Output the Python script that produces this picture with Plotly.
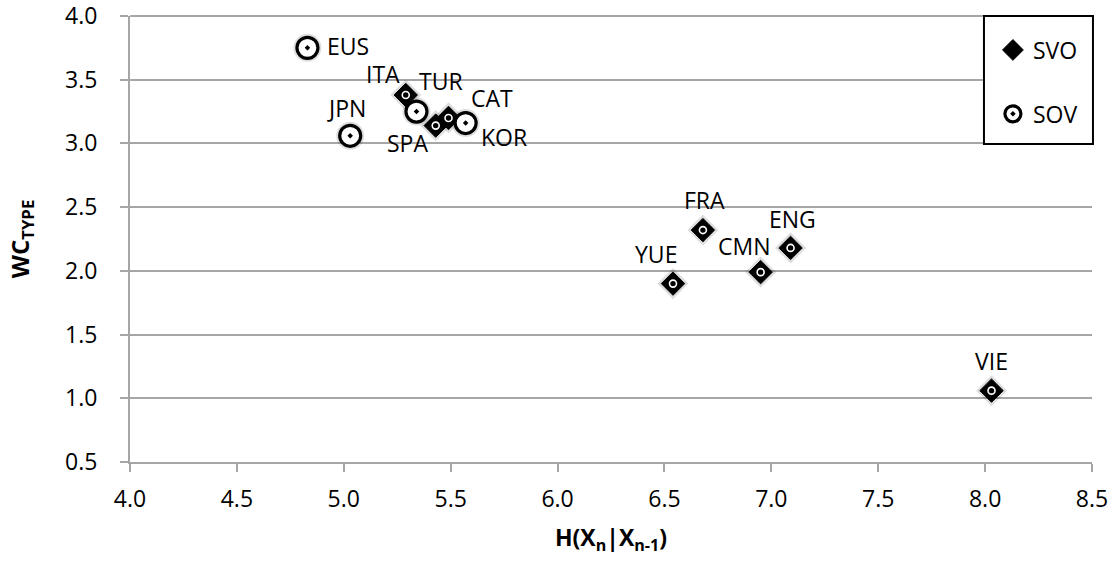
import plotly.graph_objects as go

# Word-order groups: entropy H(Xn|Xn-1) vs. WC_TYPE
svo_langs = ["ITA", "SPA", "CAT", "FRA", "ENG", "CMN", "YUE", "VIE"]
svo_h = [5.29, 5.43, 5.49, 6.68, 7.09, 6.95, 6.54, 8.03]
svo_wc = [3.38, 3.14, 3.20, 2.32, 2.18, 1.99, 1.90, 1.06]

sov_langs = ["EUS", "JPN", "TUR", "KOR"]
sov_h = [4.83, 5.03, 5.34, 5.57]
sov_wc = [3.75, 3.06, 3.25, 3.16]

x_ticks = [4.0, 4.5, 5.0, 5.5, 6.0, 6.5, 7.0, 7.5, 8.0, 8.5]
y_ticks = [0.5, 1.0, 1.5, 2.0, 2.5, 3.0, 3.5, 4.0]

# pixel offsets of each point label from its marker (dx, dy; +dy is up)
svo_label_offsets = [(-23, 21), (-28, -17), (43, 20), (2, 30),
                     (2, 29), (-16, 26), (-17, 30), (0, 30)]
sov_label_offsets = [(41, 2), (-4, 28), (25, 31), (38, -14)]

FONT = "Open Sans"
GRID = "#a6a6a6"
FS = 23

fig = go.Figure()

# soft halo beneath each marker
for xs, ys, sym, sz in [(svo_h, svo_wc, "diamond", 24), (sov_h, sov_wc, "circle", 28)]:
    fig.add_trace(go.Scatter(
        x=xs, y=ys, mode="markers", showlegend=False, hoverinfo="skip",
        marker=dict(symbol=sym, size=sz, color="rgba(0,0,0,0.13)", line=dict(width=0)),
    ))

fig.add_trace(go.Scatter(
    x=svo_h, y=svo_wc, mode="markers", name="SVO",
    marker=dict(symbol="diamond", size=18, color="black", line=dict(width=1, color="black")),
    legendgroup="svo",
))
fig.add_trace(go.Scatter(
    x=svo_h, y=svo_wc, mode="markers", showlegend=False, hoverinfo="skip",
    marker=dict(symbol="circle-open", size=7, color="white", line=dict(width=1.6, color="white")),
))

fig.add_trace(go.Scatter(
    x=sov_h, y=sov_wc, mode="markers", name="SOV",
    marker=dict(symbol="circle-dot", size=21, color="white", line=dict(width=3.2, color="black")),
    legendgroup="sov",
))

# point labels
for langs, xs, ys, offs in [(svo_langs, svo_h, svo_wc, svo_label_offsets),
                            (sov_langs, sov_h, sov_wc, sov_label_offsets)]:
    for lang, x, y, (dx, dy) in zip(langs, xs, ys, offs):
        fig.add_annotation(
            x=x, y=y, text=lang, showarrow=False,
            xshift=dx, yshift=dy,
            font=dict(family=FONT, size=FS, color="black"),
        )

# gridline along the top edge of the plot area (y = 4.0)
fig.add_shape(
    type="line", xref="paper", yref="paper",
    x0=0, x1=1, y0=1, y1=1,
    line=dict(color=GRID, width=2), layer="above",
)

# legend frame
fig.add_shape(
    type="rect", xref="paper", yref="paper",
    x0=0.8877, x1=1.001, y0=0.713, y1=1.0,
    fillcolor="white", line=dict(color="black", width=2), layer="above",
)

fig.update_layout(
    width=1113, height=561,
    margin=dict(l=130, r=21, t=16, b=99, autoexpand=False),
    paper_bgcolor="white", plot_bgcolor="white",
    font=dict(family=FONT, size=FS, color="black"),
    showlegend=True,
    legend=dict(
        x=0.897, y=0.972, xanchor="left", yanchor="top",
        bgcolor="rgba(0,0,0,0)", borderwidth=0,
        font=dict(family=FONT, size=FS),
        tracegroupgap=31, itemsizing="trace",
    ),
    xaxis=dict(
        range=[4.0, 8.5], tickvals=x_ticks, tickformat=".1f",
        showgrid=False, zeroline=False, automargin=False,
        showline=True, linecolor=GRID, linewidth=2,
        ticks="outside", ticklen=8, tickwidth=2, tickcolor=GRID,
        tickfont=dict(family=FONT, size=FS),
        ticklabelstandoff=7,
        title=dict(text="<b>H(X<sub>n</sub>|X<sub>n-1</sub>)</b>",
                   font=dict(family=FONT, size=23), standoff=17),
    ),
    yaxis=dict(
        range=[0.5, 4.0], tickvals=y_ticks, tickformat=".1f",
        showgrid=True, gridcolor=GRID, gridwidth=2, zeroline=False, automargin=False,
        showline=True, linecolor=GRID, linewidth=2,
        ticks="outside", ticklen=8, tickwidth=2, tickcolor=GRID,
        tickfont=dict(family=FONT, size=FS),
        ticklabelstandoff=18, ticklabeloverflow="allow",
        title=dict(text="<b>WC<sub>TYPE</sub></b>",
                   font=dict(family=FONT, size=24), standoff=29),
    ),
)

fig.write_html("out.html")
